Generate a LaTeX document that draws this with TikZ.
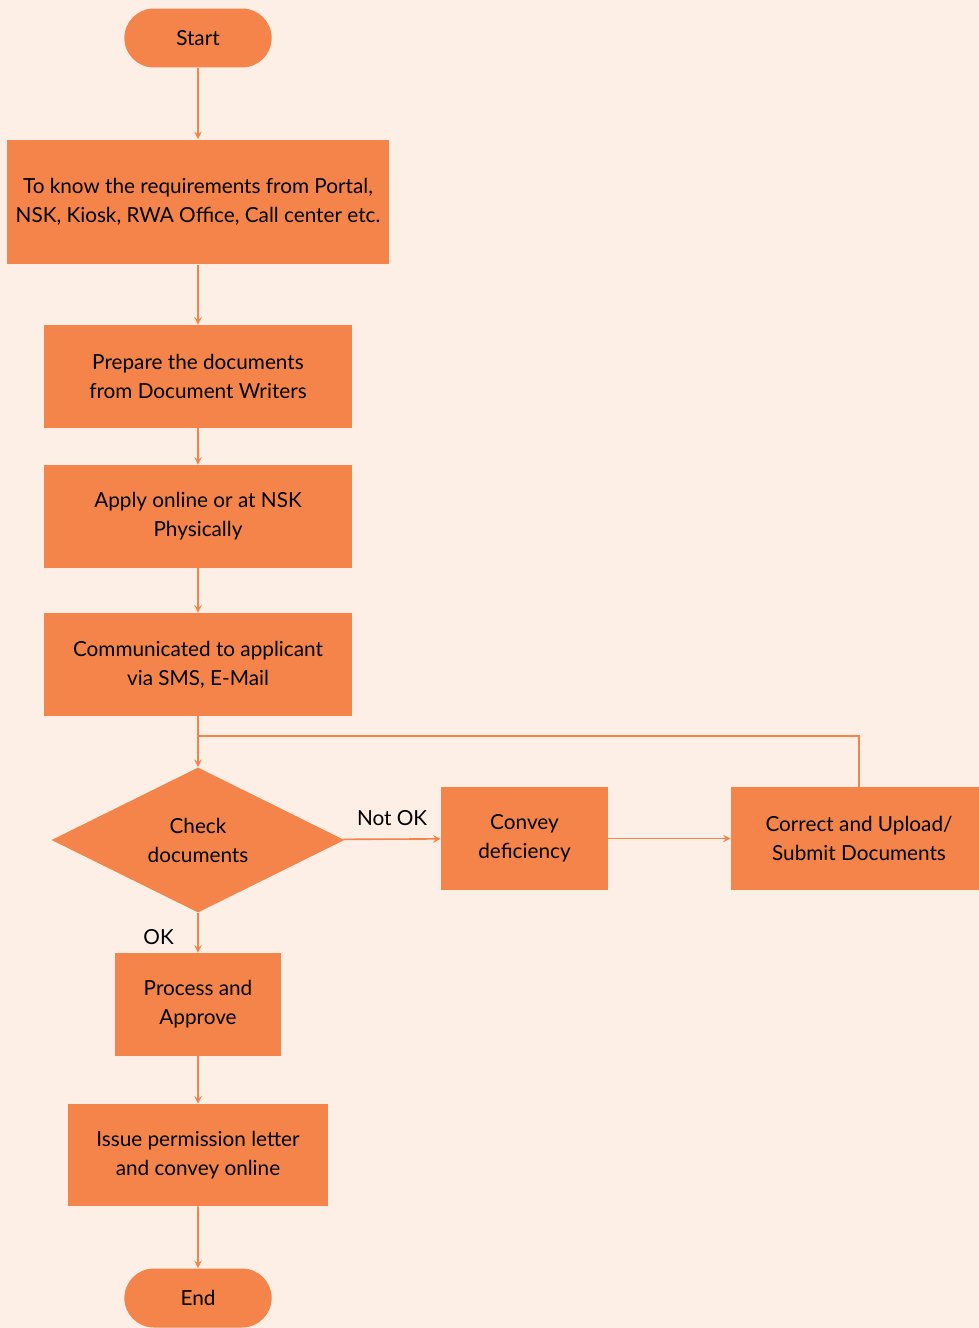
\documentclass[tikz,border=0pt]{standalone}
\usepackage{fontspec}
\setmainfont{Lato}
\usepackage{xcolor}
\usepackage{tikz}
\usetikzlibrary{shapes,positioning}
\definecolor{flowbg}{HTML}{FDEEE6}
\definecolor{floworange}{HTML}{F4844A}
\tikzset{box/.style={rectangle,fill=floworange,inner sep=0pt,align=center,font=\fontsize{11.8}{16.5}\selectfont},
         term/.style={rounded rectangle,fill=floworange,minimum width=3.18cm,minimum height=1.18cm,font=\fontsize{11.8}{16.5}\selectfont},
         dec/.style={diamond,fill=floworange,minimum width=5.86cm,minimum height=2.88cm,inner sep=0pt,align=center,font=\fontsize{11.8}{16.5}\selectfont},
         line/.style={draw=floworange,line width=0.9pt}}

\begin{document}
\begin{tikzpicture}[>=stealth,x=0.02cm,y=0.02cm]
        \fill[flowbg] (0,0) rectangle (979,-1328);
        \useasboundingbox (0,0) rectangle (979,-1328);

        \node[term] (start) at (198,-38) {Start};
        \node[box,minimum width=7.64cm,minimum height=2.5cm] (req) at (198,-202) {To know the requirements from Portal,\\NSK, Kiosk, RWA Office, Call center etc.};
        \node[box,minimum width=6.18cm,minimum height=2.06cm] (prep) at (198,-376.5) {Prepare the documents\\from Document Writers};
        \node[box,minimum width=6.18cm,minimum height=2.06cm] (apply) at (198,-516.5) {Apply online or at NSK\\Physically};
        \node[box,minimum width=6.18cm,minimum height=2.06cm] (comm) at (198,-664.5) {Communicated to applicant\\via SMS, E-Mail};
        \node[dec] (check) at (198,-840) {Check\\documents};
        \node[box,minimum width=3.34cm,minimum height=2.06cm] (conv) at (524.5,-838.5) {Convey\\deficiency};
        \node[box,minimum width=5.12cm,minimum height=2.06cm] (corr) at (859,-838.5) {Correct and Upload/\\Submit Documents};
        \node[box,minimum width=3.34cm,minimum height=2.06cm] (proc) at (198,-1004.5) {Process and\\Approve};
        \node[box,minimum width=5.2cm,minimum height=2.04cm] (issue) at (198,-1155) {Issue permission letter\\and convey online};
        \node[term] (end) at (198,-1298) {End};
        \coordinate (loop) at (198,-736);

        \draw[line,->] (start) to (req);
        \draw[line,->] (req) to (prep);
        \draw[line,->] (prep) to (apply);
        \draw[line,->] (apply) to (comm);
        \draw[line,->] (comm) to (check);
        \draw[line,->] (check) to node[above=4pt,font=\fontsize{11.8}{14}\selectfont]{Not OK} (conv);
        \draw[line,->] (conv) to (corr);
        \draw[line] (corr.north) |- (loop);
        \draw[line,->] (check) to node[pos=0.6,left=10pt,font=\fontsize{11.8}{14}\selectfont]{OK} (proc);
        \draw[line,->] (proc) to (issue);
        \draw[line,->] (issue) to (end);
    \end{tikzpicture}
\end{document}
